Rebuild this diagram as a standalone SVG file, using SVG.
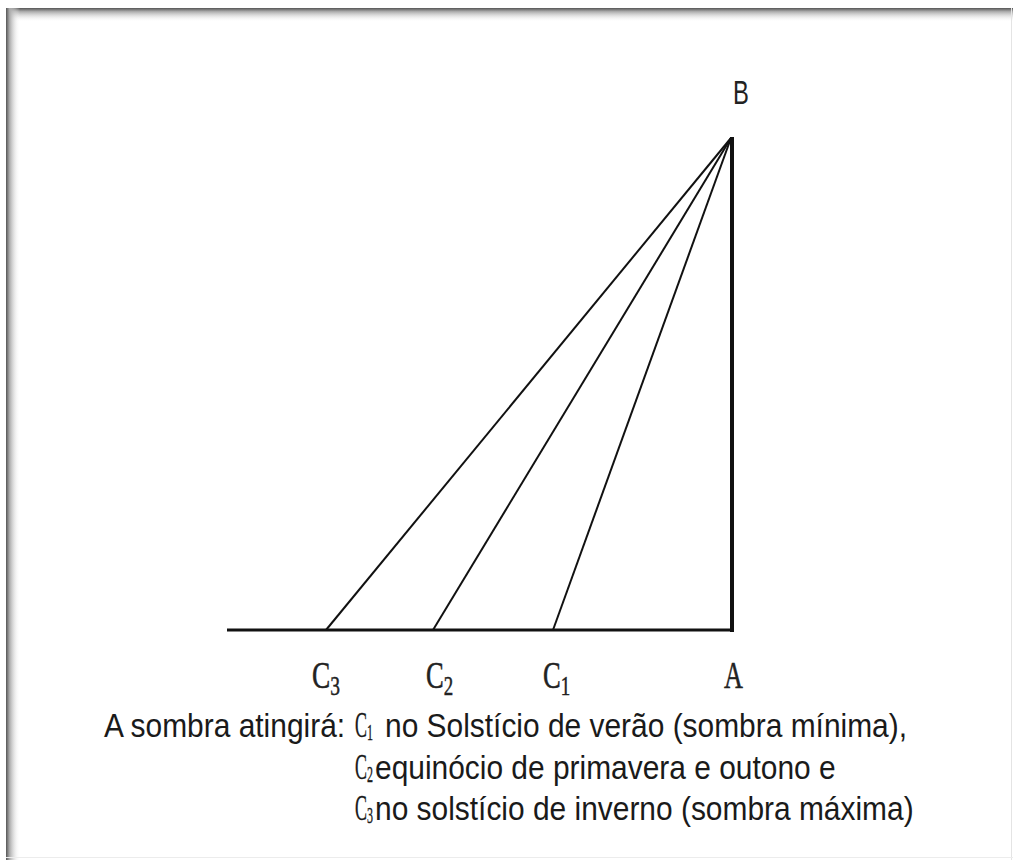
<svg xmlns="http://www.w3.org/2000/svg" width="1013" height="860" viewBox="0 0 1013 860">
<defs>
<linearGradient id="gt" x1="0" y1="0" x2="0" y2="1"><stop offset="0" stop-color="#555"/><stop offset="0.25" stop-color="#aaa"/><stop offset="1" stop-color="#fff" stop-opacity="0"/></linearGradient>
<linearGradient id="gl" x1="0" y1="0" x2="1" y2="0"><stop offset="0" stop-color="#555"/><stop offset="0.25" stop-color="#aaa"/><stop offset="1" stop-color="#fff" stop-opacity="0"/></linearGradient>
</defs>
<style>
.ln{stroke:#111;stroke-width:2;fill:none}
.lbl{font-family:"Liberation Serif","DejaVu Serif",serif;font-size:38px;fill:#222;stroke:#222;stroke-width:0.5}
.sub{font-size:27px}
.txt{font-family:"Liberation Sans","Arial",sans-serif;font-size:34px;fill:#1a1a1a}
.cs{font-family:"Liberation Serif",serif;font-size:36px;fill:#1a1a1a;stroke:#1a1a1a;stroke-width:0.4}
.cs2{font-size:24px}
</style>
<rect x="0" y="0" width="1013" height="860" fill="#fff"/>
<g id="frame">
<rect x="6" y="8" width="1007" height="14" fill="url(#gt)"/>
<rect x="6" y="8" width="14" height="852" fill="url(#gl)"/>
<line x1="1011.5" y1="8" x2="1011.5" y2="860" stroke="#e4e4e4" stroke-width="1"/>
<line x1="6" y1="857.5" x2="1013" y2="857.5" stroke="#ececec" stroke-width="1"/>
</g>
<g id="connectors">
<line class="ln" x1="227" y1="630" x2="733" y2="630" style="stroke-width:3"/>
<line class="ln" x1="732" y1="137" x2="732" y2="632" style="stroke-width:4"/>
<line class="ln" x1="731" y1="138" x2="326" y2="630"/>
<line class="ln" x1="731" y1="138" x2="433" y2="630"/>
<line class="ln" x1="731" y1="138" x2="553" y2="630"/>
</g>
<g id="node-B"><text transform="translate(733 104) scale(0.7 1)" font-family="Liberation Sans,sans-serif" font-size="34" fill="#222">B</text></g>
<g id="node-C3"><text class="lbl" transform="translate(312 688) scale(0.72 1)">C<tspan class="sub" dy="7">3</tspan></text></g>
<g id="node-C2"><text class="lbl" transform="translate(426 688) scale(0.7 1)">C<tspan class="sub" dy="7">2</tspan></text></g>
<g id="node-C1"><text class="lbl" transform="translate(543 688) scale(0.7 1)">C<tspan class="sub" dy="7">1</tspan></text></g>
<g id="node-A"><text class="lbl" transform="translate(724 688) scale(0.69 1)">A</text></g>
<g id="caption">
<text class="txt" transform="translate(104 737) scale(0.88 1)">A sombra atingirá:</text>
<text class="cs" transform="translate(355 737) scale(0.5 1)">C<tspan class="cs2" dy="3">1</tspan></text>
<text class="txt" transform="translate(385 737) scale(0.88 1)">no Solstício de verão (sombra mínima),</text>
<text class="cs" transform="translate(355 779) scale(0.5 1)">C<tspan class="cs2" dy="3">2</tspan></text>
<text class="txt" transform="translate(375 779) scale(0.88 1)">equinócio de primavera e outono e</text>
<text class="cs" transform="translate(355 820) scale(0.5 1)">C<tspan class="cs2" dy="3">3</tspan></text>
<text class="txt" transform="translate(375 820) scale(0.88 1)">no solstício de inverno (sombra máxima)</text>
</g>
</svg>
